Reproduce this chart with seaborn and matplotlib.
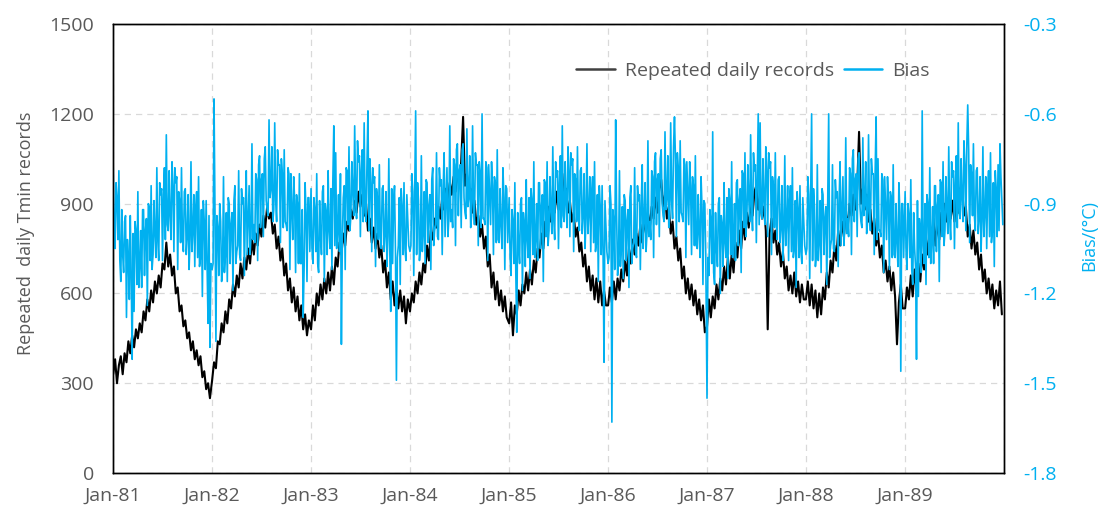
import pandas as pd
import numpy as np
import matplotlib
matplotlib.use("Agg")
import matplotlib.pyplot as plt
from matplotlib.lines import Line2D
import seaborn as sns

# Weekly readings (repeated daily Tmin records), one list per year
records_1981 = [330, 380, 300, 360, 390, 330, 400, 370, 440, 400, 460, 420, 480,
                450, 500, 470, 540, 510, 580, 540, 610, 570, 640, 600, 660, 620,
                700, 680, 770, 690, 730, 660, 690, 600, 620, 540, 560, 490, 510,
                450, 470, 410, 440, 380, 410, 360, 390, 320, 340, 280, 300, 250]
records_1982 = [310, 370, 350, 440, 430, 500, 470, 540, 500, 580, 550, 630, 590,
                660, 620, 700, 650, 720, 680, 750, 700, 780, 730, 800, 760, 830,
                790, 860, 820, 890, 850, 870, 800, 830, 750, 790, 710, 750, 660,
                700, 610, 650, 570, 620, 540, 590, 510, 560, 480, 530, 460, 510]
records_1983 = [480, 560, 510, 600, 560, 630, 580, 650, 600, 670, 610, 690, 630,
                720, 690, 770, 730, 800, 760, 840, 810, 880, 850, 910, 870, 940,
                890, 930, 860, 900, 810, 850, 770, 820, 750, 800, 720, 760, 670,
                710, 620, 670, 580, 640, 560, 620, 550, 610, 540, 590, 500, 580]
records_1984 = [540, 600, 570, 640, 600, 670, 630, 700, 670, 760, 710, 810, 780,
                850, 820, 890, 850, 920, 880, 950, 910, 970, 930, 990, 940, 1010,
                960, 1040, 1190, 960, 1000, 930, 950, 870, 910, 830, 860, 790, 830,
                750, 790, 690, 730, 620, 670, 580, 640, 560, 610, 540, 590, 520]
records_1985 = [500, 570, 460, 560, 530, 610, 560, 630, 600, 670, 610, 680, 630,
                710, 670, 750, 720, 800, 750, 840, 820, 890, 840, 910, 870, 940,
                880, 960, 1000, 900, 950, 870, 910, 840, 870, 790, 820, 740, 770,
                690, 730, 640, 690, 610, 660, 580, 650, 570, 640, 560, 610, 560]
records_1986 = [560, 620, 570, 640, 580, 650, 610, 680, 640, 710, 660, 750, 700,
                780, 730, 800, 760, 830, 770, 850, 800, 870, 820, 890, 850, 920,
                870, 950, 980, 890, 930, 850, 890, 800, 840, 750, 790, 710, 750,
                650, 690, 600, 650, 580, 630, 560, 610, 530, 580, 510, 560, 470]
records_1987 = [490, 580, 520, 590, 550, 630, 580, 650, 610, 690, 630, 720, 650,
                730, 670, 770, 720, 810, 750, 840, 780, 870, 820, 900, 860, 940,
                960, 880, 930, 850, 890, 810, 480, 800, 850, 770, 810, 730, 770,
                690, 740, 650, 690, 610, 660, 600, 670, 590, 640, 570, 630, 580]
records_1988 = [580, 640, 560, 630, 550, 610, 520, 600, 530, 620, 580, 670, 620,
                710, 670, 760, 710, 810, 760, 840, 790, 870, 820, 900, 860, 930,
                880, 950, 1140, 900, 950, 880, 930, 840, 880, 800, 850, 760, 800,
                720, 760, 670, 710, 640, 690, 610, 670, 590, 430, 570, 630, 550]
records_1989 = [550, 620, 580, 660, 590, 680, 610, 700, 640, 730, 680, 780, 730,
                830, 780, 850, 760, 840, 780, 870, 810, 900, 840, 920, 850, 910,
                840, 920, 870, 950, 960, 860, 890, 790, 830, 750, 810, 730, 770,
                680, 730, 640, 680, 600, 650, 580, 630, 550, 610, 560, 640, 530]

# Bias readings (degC) at the start of each week, one list per year
bias_1981 = [-0.78, -1.05, -0.88, -0.79, -1.16, -1.07, -0.96, -1.28, -1.08, -0.94, -1.42, -1.26, -0.99,
             -0.86, -1.11, -1.18, -0.92, -0.99, -1.24, -0.91, -0.84, -1.07, -1.00, -0.78, -1.09, -0.87,
             -1.09, -0.78, -0.67, -0.99, -0.94, -0.76, -1.06, -0.83, -1.12, -0.89, -0.78, -1.06, -0.85,
             -1.01, -1.12, -0.76, -0.99, -1.11, -0.86, -0.81, -1.08, -1.21, -0.96, -0.89, -1.30, -1.38]
bias_1982 = [-1.12, -0.55, -1.36, -0.98, -0.90, -1.16, -0.81, -1.07, -1.16, -0.90, -0.97, -1.19, -0.84,
             -1.06, -0.79, -1.09, -0.90, -1.14, -0.79, -0.96, -1.07, -0.70, -0.97, -0.80, -1.09, -0.74,
             -0.82, -1.01, -0.71, -0.92, -0.62, -0.85, -0.96, -0.63, -0.96, -0.77, -1.03, -0.80, -0.72,
             -0.97, -0.78, -1.12, -0.92, -0.81, -1.13, -0.90, -0.80, -1.10, -1.28, -0.83, -1.16, -0.88]
bias_1983 = [-0.85, -1.10, -0.92, -0.80, -1.13, -1.01, -0.86, -1.16, -0.93, -0.79, -1.05, -1.12, -0.64,
             -0.73, -0.99, -1.06, -1.37, -0.88, -1.12, -0.79, -0.71, -0.94, -0.86, -0.64, -0.95, -0.76,
             -1.01, -0.72, -0.63, -0.96, -0.59, -0.75, -1.06, -0.83, -1.11, -0.88, -0.77, -1.05, -0.84,
             -1.00, -1.11, -0.75, -1.26, -1.10, -0.84, -1.49, -1.04, -1.17, -0.91, -0.83, -1.09, -0.96]
bias_1984 = [-1.06, -0.80, -1.14, -0.59, -0.83, -1.09, -0.74, -1.00, -1.10, -0.83, -0.91, -1.12, -0.78,
             -0.99, -0.73, -1.02, -0.84, -1.07, -0.73, -0.90, -1.01, -0.64, -0.92, -0.75, -1.04, -0.70,
             -0.79, -0.98, -0.70, -0.93, -0.65, -0.88, -0.98, -0.64, -0.97, -0.77, -1.04, -0.80, -0.60,
             -0.95, -0.76, -1.09, -0.87, -0.76, -1.07, -0.83, -0.72, -1.03, -0.97, -0.78, -1.12, -0.85]
bias_1985 = [-0.88, -1.14, -0.96, -0.83, -1.33, -1.04, -0.90, -1.19, -0.97, -0.82, -1.08, -1.15, -0.89,
             -0.76, -1.02, -1.09, -0.83, -0.91, -1.16, -0.83, -0.76, -0.99, -0.92, -0.71, -1.02, -0.81,
             -1.05, -0.74, -0.64, -0.96, -0.90, -0.71, -1.01, -0.77, -1.06, -0.82, -0.71, -0.99, -0.78,
             -0.94, -1.05, -0.70, -0.93, -1.06, -0.81, -0.76, -1.03, -1.16, -0.91, -0.84, -1.43, -0.98]
bias_1986 = [-1.10, -0.84, -1.63, -0.96, -0.62, -1.14, -0.79, -1.05, -1.15, -0.89, -0.96, -1.18, -0.84,
             -1.05, -0.78, -1.08, -0.89, -1.12, -0.77, -0.95, -1.06, -0.69, -0.96, -0.79, -1.08, -0.73,
             -0.82, -1.01, -0.72, -0.94, -0.66, -0.88, -0.98, -0.63, -0.95, -0.61, -1.01, -0.78, -0.69,
             -0.94, -0.75, -1.08, -0.87, -0.76, -1.07, -0.84, -0.74, -1.05, -1.00, -0.81, -1.17, -0.90]
bias_1987 = [-1.55, -1.14, -0.96, -0.66, -1.17, -1.05, -0.90, -1.20, -0.97, -0.83, -1.08, -1.15, -0.89,
             -0.76, -1.02, -1.09, -0.82, -0.89, -1.13, -0.80, -0.73, -0.95, -0.88, -0.67, -0.99, -0.79,
             -1.03, -0.60, -0.63, -0.95, -0.89, -0.71, -1.01, -0.78, -1.07, -0.84, -0.73, -1.02, -0.81,
             -0.98, -1.09, -0.74, -0.96, -1.09, -0.84, -0.78, -1.05, -1.18, -0.92, -0.84, -1.10, -0.96]
bias_1988 = [-1.07, -0.81, -1.15, -0.60, -0.85, -1.11, -0.77, -1.03, -1.13, -0.87, -0.95, -1.17, -0.60,
             -1.04, -0.77, -1.06, -0.88, -1.11, -0.76, -0.93, -1.04, -0.68, -0.95, -0.78, -1.07, -0.72,
             -0.82, -1.01, -0.73, -0.96, -0.68, -0.90, -1.00, -0.67, -0.99, -0.80, -1.07, -0.61, -0.75,
             -0.99, -0.80, -1.13, -0.92, -0.81, -1.12, -0.88, -0.77, -1.08, -1.03, -0.83, -1.46, -0.90]
bias_1989 = [-0.86, -1.12, -0.94, -0.82, -1.17, -1.05, -1.42, -1.21, -0.99, -0.59, -1.10, -1.17, -0.90,
             -0.78, -1.03, -1.10, -0.84, -0.91, -1.16, -0.83, -0.76, -0.99, -0.92, -0.71, -1.02, -0.81,
             -1.05, -0.74, -0.63, -0.95, -0.88, -0.69, -0.99, -0.57, -1.03, -0.80, -0.70, -0.99, -0.78,
             -0.95, -1.06, -0.71, -0.93, -1.05, -0.79, -0.73, -0.99, -1.11, -0.85, -0.77, -0.70, -0.89]

# Bias readings (degC) in the middle of each week
bias_mid_1981 = [-0.98, -0.83, -1.02, -1.09, -0.92, -1.13, -0.94, -1.02, -1.22, -1.14, -1.00, -0.96, -1.17,
                 -1.18, -0.99, -0.92, -1.14, -0.95, -0.90, -1.09, -1.12, -0.89, -1.08, -1.02, -0.83, -0.85,
                 -0.87, -1.02, -0.97, -0.79, -1.02, -0.84, -0.78, -0.81, -0.86, -1.03, -1.02, -0.86, -1.07,
                 -0.87, -1.02, -1.06, -0.87, -0.91, -1.08, -1.11, -0.92, -0.89, -1.12, -1.11, -0.94, -1.10]
bias_mid_1982 = [-1.10, -0.92, -0.94, -1.14, -0.96, -1.12, -1.13, -0.93, -0.88, -1.10, -0.93, -0.89, -1.10,
                 -1.04, -1.07, -0.85, -0.88, -0.92, -1.07, -0.84, -1.01, -1.02, -1.03, -0.82, -0.77, -0.98,
                 -0.80, -0.75, -0.89, -0.94, -0.88, -0.71, -0.92, -0.89, -0.72, -0.77, -0.75, -0.98, -0.96,
                 -0.99, -0.80, -0.80, -1.02, -0.89, -0.87, -1.10, -1.10, -0.92, -1.11, -0.93, -0.88, -1.06]
bias_mid_1983 = [-1.05, -0.88, -1.06, -1.10, -0.89, -1.07, -0.84, -0.90, -1.07, -0.99, -0.85, -0.82, -1.04,
                 -1.05, -0.87, -0.80, -1.02, -0.84, -0.78, -0.97, -0.99, -0.76, -0.94, -0.88, -0.69, -0.74,
                 -0.79, -0.96, -0.93, -0.76, -0.99, -0.83, -0.78, -0.81, -0.85, -1.02, -1.01, -0.85, -1.06,
                 -0.86, -1.01, -1.05, -0.85, -0.90, -1.06, -1.08, -0.88, -0.85, -1.07, -1.05, -0.87, -1.04]
bias_mid_1984 = [-1.04, -0.86, -0.88, -1.07, -0.89, -1.05, -1.06, -0.86, -0.82, -1.03, -0.87, -0.82, -1.04,
                 -0.97, -1.01, -0.78, -0.82, -0.85, -1.01, -0.78, -0.95, -0.96, -0.98, -0.77, -0.72, -0.94,
                 -0.77, -0.72, -0.88, -0.95, -0.91, -0.74, -0.94, -0.90, -0.73, -0.77, -0.76, -0.98, -0.95,
                 -0.97, -0.78, -0.77, -0.97, -0.84, -0.81, -1.03, -1.02, -0.85, -1.05, -0.88, -0.84, -1.03]
bias_mid_1985 = [-1.08, -0.92, -1.10, -1.13, -0.93, -1.10, -0.88, -0.93, -1.11, -1.02, -0.88, -0.85, -1.07,
                 -1.08, -0.90, -0.83, -1.05, -0.87, -0.82, -1.01, -1.04, -0.81, -1.00, -0.95, -0.76, -0.79,
                 -0.83, -0.98, -0.94, -0.76, -0.98, -0.79, -0.73, -0.75, -0.80, -0.96, -0.95, -0.79, -1.00,
                 -0.80, -0.95, -1.00, -0.81, -0.86, -1.03, -1.06, -0.87, -0.84, -1.07, -1.06, -0.89, -1.06]
bias_mid_1986 = [-1.08, -0.90, -0.92, -1.12, -0.94, -1.10, -1.11, -0.91, -0.87, -1.09, -0.92, -0.88, -1.10,
                 -1.03, -1.06, -0.84, -0.87, -0.90, -1.05, -0.83, -1.00, -1.01, -1.02, -0.81, -0.76, -0.97,
                 -0.80, -0.75, -0.90, -0.96, -0.92, -0.74, -0.94, -0.89, -0.71, -0.75, -0.73, -0.96, -0.93,
                 -0.96, -0.77, -0.76, -0.97, -0.84, -0.81, -1.04, -1.04, -0.87, -1.08, -0.91, -0.89, -1.08]
bias_mid_1987 = [-1.08, -0.92, -1.10, -1.13, -0.93, -1.11, -0.88, -0.94, -1.11, -1.03, -0.88, -0.85, -1.07,
                 -1.08, -0.90, -0.83, -1.04, -0.85, -0.79, -0.98, -1.01, -0.77, -0.96, -0.91, -0.73, -0.77,
                 -0.81, -0.97, -0.93, -0.75, -0.97, -0.79, -0.73, -0.76, -0.81, -0.98, -0.97, -0.82, -1.03,
                 -0.84, -0.99, -1.04, -0.84, -0.89, -1.06, -1.08, -0.89, -0.86, -1.08, -1.06, -0.88, -1.04]
bias_mid_1988 = [-1.05, -0.87, -0.89, -1.09, -0.91, -1.07, -1.09, -0.89, -0.85, -1.07, -0.91, -0.87, -1.08,
                 -1.02, -1.05, -0.82, -0.86, -0.89, -1.04, -0.81, -0.98, -1.00, -1.01, -0.80, -0.75, -0.96,
                 -0.80, -0.75, -0.91, -0.98, -0.94, -0.76, -0.96, -0.93, -0.75, -0.80, -0.79, -1.02, -0.99,
                 -1.01, -0.82, -0.81, -1.02, -0.89, -0.86, -1.08, -1.07, -0.90, -1.11, -0.93, -0.90, -1.08]
bias_mid_1989 = [-1.06, -0.90, -1.08, -1.12, -0.93, -1.11, -0.89, -0.95, -1.13, -1.04, -0.90, -0.87, -1.08,
                 -1.10, -0.91, -0.84, -1.06, -0.87, -0.82, -1.01, -1.04, -0.81, -1.00, -0.95, -0.76, -0.79,
                 -0.83, -0.98, -0.93, -0.75, -0.96, -0.77, -0.71, -0.72, -0.77, -0.94, -0.94, -0.79, -1.00,
                 -0.81, -0.96, -1.01, -0.81, -0.85, -1.01, -1.03, -0.83, -0.79, -1.01, -0.99, -0.81, -0.97]

years = list(range(1981, 1990))
records_by_year = [records_1981, records_1982, records_1983, records_1984, records_1985,
                   records_1986, records_1987, records_1988, records_1989]
bias_by_year = [bias_1981, bias_1982, bias_1983, bias_1984, bias_1985,
                bias_1986, bias_1987, bias_1988, bias_1989]
bias_mid_by_year = [bias_mid_1981, bias_mid_1982, bias_mid_1983, bias_mid_1984, bias_mid_1985,
                    bias_mid_1986, bias_mid_1987, bias_mid_1988, bias_mid_1989]

tick_years = list(range(1981, 1991))
tick_labels = ["Jan-81", "Jan-82", "Jan-83", "Jan-84", "Jan-85",
               "Jan-86", "Jan-87", "Jan-88", "Jan-89", ""]
left_ticks = [0, 300, 600, 900, 1200, 1500]
right_ticks = [-1.8, -1.5, -1.2, -0.9, -0.6, -0.3]

GREY = "#595959"
BLUE = "#00B0F0"

# build the tables
rec_frames, bias_frames = [], []
for year, rec, bias, bias_mid in zip(years, records_by_year, bias_by_year, bias_mid_by_year):
    dates = pd.date_range(f"{year}-01-01", periods=len(rec), freq="7D")
    rec_frames.append(pd.DataFrame({"date": dates, "records": rec}))
    bias_frames.append(pd.DataFrame({"date": dates, "bias": bias}))
    bias_frames.append(pd.DataFrame({"date": dates + pd.Timedelta(hours=84), "bias": bias_mid}))
df_rec = pd.concat(rec_frames, ignore_index=True)
df_bias = pd.concat(bias_frames, ignore_index=True).sort_values("date")

sns.set_style("white")
plt.rcParams["font.family"] = ["Open Sans", "DejaVu Sans"]

fig, ax = plt.subplots(figsize=(10.99, 5.13), dpi=100)
fig.subplots_adjust(left=0.103, right=0.9136, bottom=0.078, top=0.953)

sns.lineplot(data=df_rec, x="date", y="records", ax=ax, color="black", linewidth=1.5)
ax2 = ax.twinx()
sns.lineplot(data=df_bias, x="date", y="bias", ax=ax2, color=BLUE, linewidth=1.2)

# x axis
xticks = [pd.Timestamp(f"{y}-01-01") for y in tick_years]
ax.set_xlim(xticks[0], xticks[-1])
ax.set_xticks(xticks)
ax.set_xticklabels(tick_labels)
ax.set_xlabel("")

# left axis
ax.set_ylim(0, 1500)
ax.set_yticks(left_ticks)
ax.set_yticklabels([str(t) for t in left_ticks])
ax.set_ylabel("Repeated  daily Tmin records", color=GREY, fontsize=13)
ax.yaxis.set_label_coords(-0.088, 0.535)

# right axis
ax2.set_ylim(-1.8, -0.3)
ax2.set_yticks(right_ticks)
ax2.set_yticklabels([f"{t:.1f}" for t in right_ticks])
ax2.set_ylabel("Bias/(\u00b0C)", color=BLUE, fontsize=13)
ax2.yaxis.set_label_coords(1.086, 0.53)

ax.grid(True, color="#D9D9D9", linestyle=(0, (5, 4)), linewidth=0.9)
ax.set_axisbelow(True)

ax.tick_params(axis="x", length=5, width=1, direction="out", color="black",
               labelcolor=GREY, labelsize=14, pad=5)
ax.tick_params(axis="y", length=0, labelcolor=GREY, labelsize=14, pad=14)
ax2.tick_params(axis="y", length=0, labelcolor=BLUE, labelsize=14, pad=14)

for a in (ax, ax2):
    for s in a.spines.values():
        s.set_color("black")
        s.set_linewidth(1.0)
        s.set_visible(True)

handles = [Line2D([0], [0], color="#404040", lw=1.8),
           Line2D([0], [0], color=BLUE, lw=1.8)]
leg = ax2.legend(handles, ["Repeated daily records", "Bias"], loc="center",
                 bbox_to_anchor=(0.718, 0.895), ncol=2, frameon=False, fontsize=14,
                 handlelength=2.0, handletextpad=0.5, columnspacing=0.5)
for t in leg.get_texts():
    t.set_color(GREY)

fig.savefig("out.png", dpi=100)
